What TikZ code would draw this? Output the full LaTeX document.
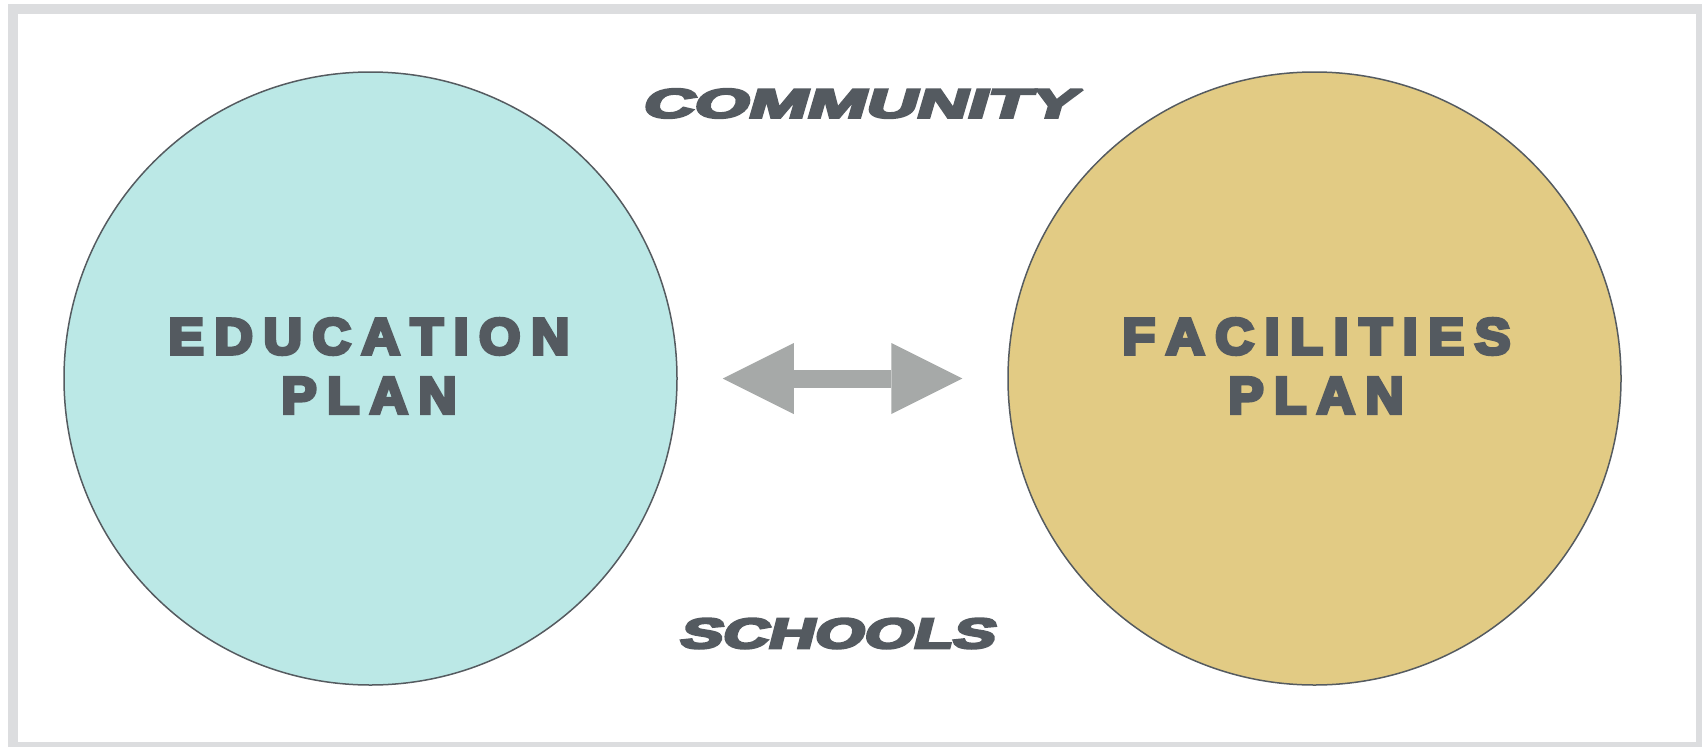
\documentclass[tikz,border=0pt]{standalone}
\usepackage{fontspec}
\usepackage{graphicx}
\usetikzlibrary{arrows.meta,positioning}

\newfontfamily\planfont{Liberation Sans}[FakeBold=7]
\newfontfamily\sidefont{Liberation Sans}[FakeBold=6,FakeSlant=0.17]

\definecolor{eduteal}{HTML}{BBE8E6}
\definecolor{facgold}{HTML}{E2CB84}
\definecolor{inkgray}{HTML}{545A60}
\definecolor{arrowgray}{HTML}{A6A9A8}
\definecolor{framegray}{HTML}{DCDDDF}
\definecolor{rimgray}{HTML}{555B60}

% gap between spread letters
\newcommand{\ls}{\kern0.2em}

\tikzset{
  plancircle/.style={circle, draw=rimgray, line width=1.5pt, minimum size=613pt, inner sep=0pt},
  plantext/.style={text=inkgray, inner sep=0pt, line join=miter, miter limit=2, font=\planfont\bfseries},
  sidetext/.style={text=inkgray, inner sep=0pt, line join=miter, miter limit=2, font=\sidefont\bfseries},
  linkarrow/.style={draw=arrowgray, line width=18pt,
    {Triangle[length=71pt,width=71pt,line width=0pt]}-{Triangle[length=71pt,width=71pt,line width=0pt]},
    shorten <=45pt, shorten >=45pt}
}

\begin{document}
\begin{tikzpicture}[x=1pt,y=-1pt]
    % Frame
    \useasboundingbox (0,0) rectangle (1702,747);
    \fill[framegray] (8,4) rectangle (1702,747);
    \fill[white] (18,14) rectangle (1696,742);

    % Draw plans
    \node[plancircle, fill=eduteal] (edu) at (370.5,378.5) {};
    \node[plancircle, fill=facgold] (fac) at (1314.5,378.5) {};

    % Plan names
    \node[plantext] (eduname) at (369,336.5) {\resizebox{401pt}{35.5pt}{E\ls D\ls U\ls C\ls A\ls T\ls I\ls O\ls N}};
    \node[plantext] (eduplan) at (369,395.5) {\resizebox{175pt}{35.5pt}{P\ls L\ls A\ls N}};
    \node[plantext] (facname) at (1316.5,336.5) {\resizebox{388pt}{35.5pt}{F\ls A\ls C\ls I\ls L\ls I\ls T\ls I\ls E\ls S}};
    \node[plantext] (facplan) at (1316,395.5) {\resizebox{175pt}{35.5pt}{P\ls L\ls A\ls N}};

    % Link between the plans
    \draw[linkarrow] (edu) -- (fac);

    % Label the setting
    \node[sidetext] (community) at (858,103.5) {\resizebox{434pt}{28.5pt}{COMMUNITY}};
    \node[sidetext] (schools) at (835.5,633.5) {\resizebox{315pt}{29.5pt}{SCHOOLS}};
\end{tikzpicture}
\end{document}
